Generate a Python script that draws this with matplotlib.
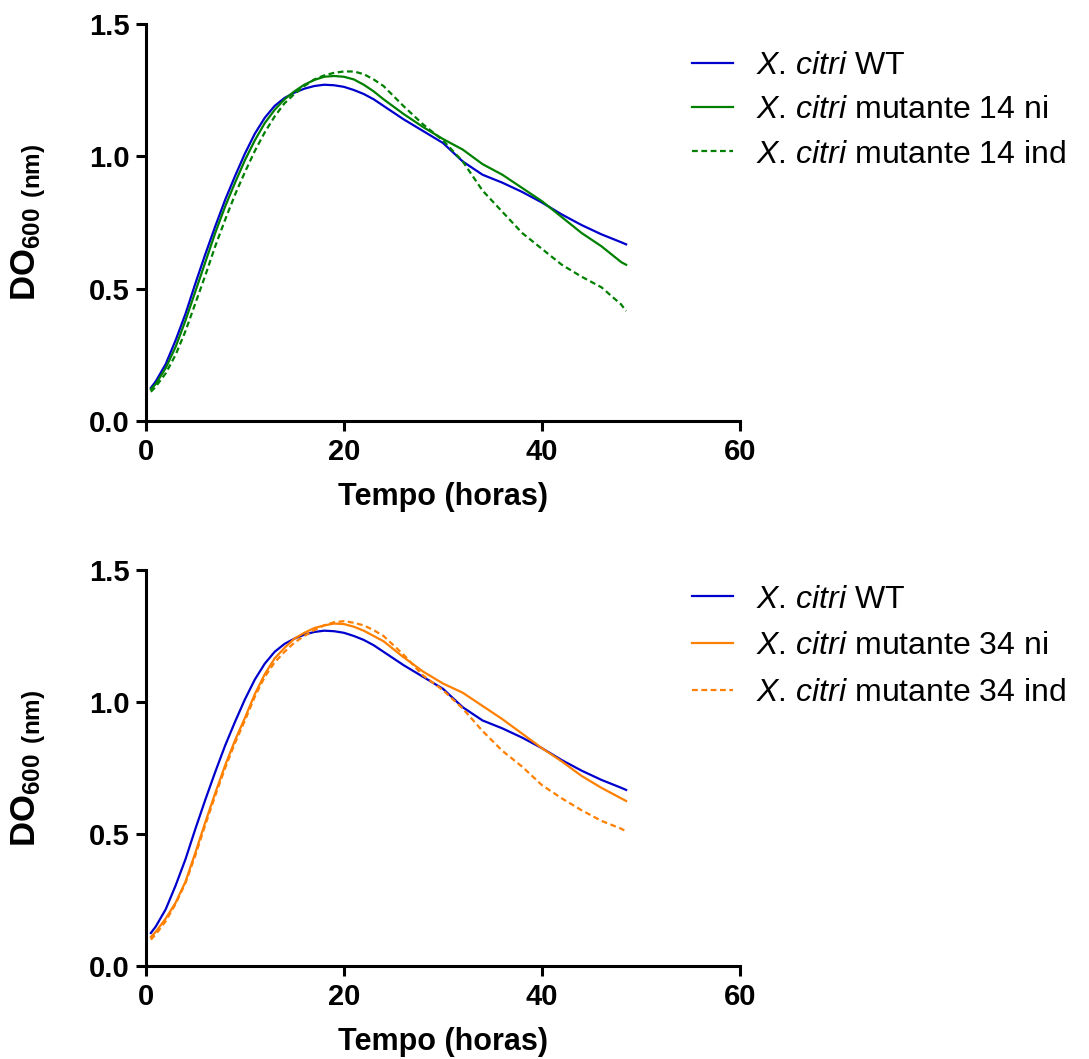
import matplotlib
matplotlib.use("Agg")
import matplotlib.pyplot as plt
from matplotlib.ticker import FormatStrFormatter

plt.rcParams["font.family"] = ["Liberation Sans", "DejaVu Sans"]
plt.rcParams["mathtext.fontset"] = "custom"
plt.rcParams["mathtext.rm"] = "Liberation Sans"
plt.rcParams["mathtext.it"] = "Liberation Sans:italic"
plt.rcParams["mathtext.bf"] = "Liberation Sans:bold"

# time points (hours)
hours = [0.5, 1, 2, 3, 4, 5, 6, 7, 8, 9, 10, 11, 12, 13, 14, 15, 16, 17, 18, 19,
         20, 21, 22, 23, 24, 26, 28, 30, 32, 34, 36, 38, 40, 42, 44, 46, 48, 48.5]

# OD600 readings
wt = [0.125, 0.15, 0.215, 0.305, 0.405, 0.52, 0.63, 0.735, 0.835, 0.925,
      1.01, 1.085, 1.145, 1.19, 1.22, 1.24, 1.255, 1.265, 1.27, 1.268,
      1.262, 1.25, 1.235, 1.215, 1.19, 1.14, 1.095, 1.05, 0.98, 0.93,
      0.90, 0.865, 0.825, 0.78, 0.74, 0.705, 0.675, 0.667]
mut14_ni = [0.12, 0.14, 0.20, 0.28, 0.38, 0.49, 0.60, 0.71, 0.81, 0.90,
            0.985, 1.06, 1.125, 1.175, 1.215, 1.245, 1.27, 1.288, 1.30, 1.303,
            1.30, 1.29, 1.27, 1.245, 1.215, 1.16, 1.11, 1.065, 1.025, 0.97,
            0.93, 0.88, 0.83, 0.77, 0.71, 0.66, 0.60, 0.59]
mut14_ind = [0.11, 0.13, 0.18, 0.25, 0.34, 0.445, 0.55, 0.66, 0.76, 0.855,
             0.94, 1.02, 1.09, 1.15, 1.20, 1.235, 1.265, 1.29, 1.305, 1.315,
             1.32, 1.32, 1.31, 1.29, 1.265, 1.19, 1.12, 1.06, 0.98, 0.87,
             0.79, 0.71, 0.65, 0.59, 0.545, 0.505, 0.44, 0.415]
mut34_ni = [0.11, 0.13, 0.18, 0.24, 0.32, 0.43, 0.545, 0.655, 0.76, 0.855,
            0.94, 1.03, 1.105, 1.165, 1.205, 1.24, 1.262, 1.28, 1.29, 1.297,
            1.295, 1.285, 1.27, 1.25, 1.23, 1.17, 1.115, 1.07, 1.035, 0.985,
            0.935, 0.88, 0.825, 0.775, 0.72, 0.675, 0.635, 0.625]
mut34_ind = [0.10, 0.12, 0.17, 0.235, 0.315, 0.42, 0.535, 0.645, 0.75, 0.845,
             0.93, 1.02, 1.095, 1.15, 1.19, 1.225, 1.25, 1.272, 1.29, 1.302,
             1.306, 1.30, 1.29, 1.272, 1.25, 1.18, 1.10, 1.045, 0.975, 0.89,
             0.815, 0.755, 0.685, 0.635, 0.59, 0.55, 0.52, 0.51]

panels = [
    ("14", "#008000", mut14_ni, mut14_ind, [0.134, 0.6025, 0.5455, 0.375], 0.952, 0.45),
    ("34", "#FF8000", mut34_ni, mut34_ind, [0.134, 0.0878, 0.5455, 0.374], 0.448, 0.53),
]

fig = plt.figure(figsize=(10.89, 10.59), dpi=100)

for name, color, ni, ind, rect, leg_y, spacing in panels:
    ax = fig.add_axes(rect)
    l1, = ax.plot(hours, wt, color="#0000CC", lw=1.6)
    l2, = ax.plot(hours, ni, color=color, lw=1.6)
    l3, = ax.plot(hours, ind, color=color, lw=1.6, linestyle=(0, (2.6, 1.6)))

    ax.set_xlim(0, 60)
    ax.set_ylim(0, 1.5)
    ax.set_xticks([0, 20, 40, 60])
    ax.set_yticks([0, 0.5, 1.0, 1.5])
    ax.yaxis.set_major_formatter(FormatStrFormatter("%.1f"))
    for side in ("top", "right"):
        ax.spines[side].set_visible(False)
    for side in ("left", "bottom"):
        ax.spines[side].set_linewidth(2.2)
    ax.tick_params(width=2.2, length=7, labelsize=21, pad=5)
    for lab in ax.get_xticklabels() + ax.get_yticklabels():
        lab.set_fontweight("bold")

    ax.set_xlabel("Tempo (horas)", fontsize=22, fontweight="bold", labelpad=12)
    ax.set_ylabel(r"$\mathbf{DO_{600}}\ \mathbf{{}_{(nm)}}$", fontsize=25)
    ax.yaxis.set_label_coords(-0.165, 0.5)

    labels = [r"$\it{X}$. $\it{citri}$ WT",
              r"$\it{X}$. $\it{citri}$ mutante " + name + " ni",
              r"$\it{X}$. $\it{citri}$ mutante " + name + " ind"]
    fig.legend([l1, l2, l3], labels, loc="upper left",
               bbox_to_anchor=(0.635, leg_y), frameon=False, fontsize=23,
               handlelength=1.3, handletextpad=0.72, labelspacing=spacing,
               borderpad=0, borderaxespad=0)

fig.savefig("out.png", dpi=100)
